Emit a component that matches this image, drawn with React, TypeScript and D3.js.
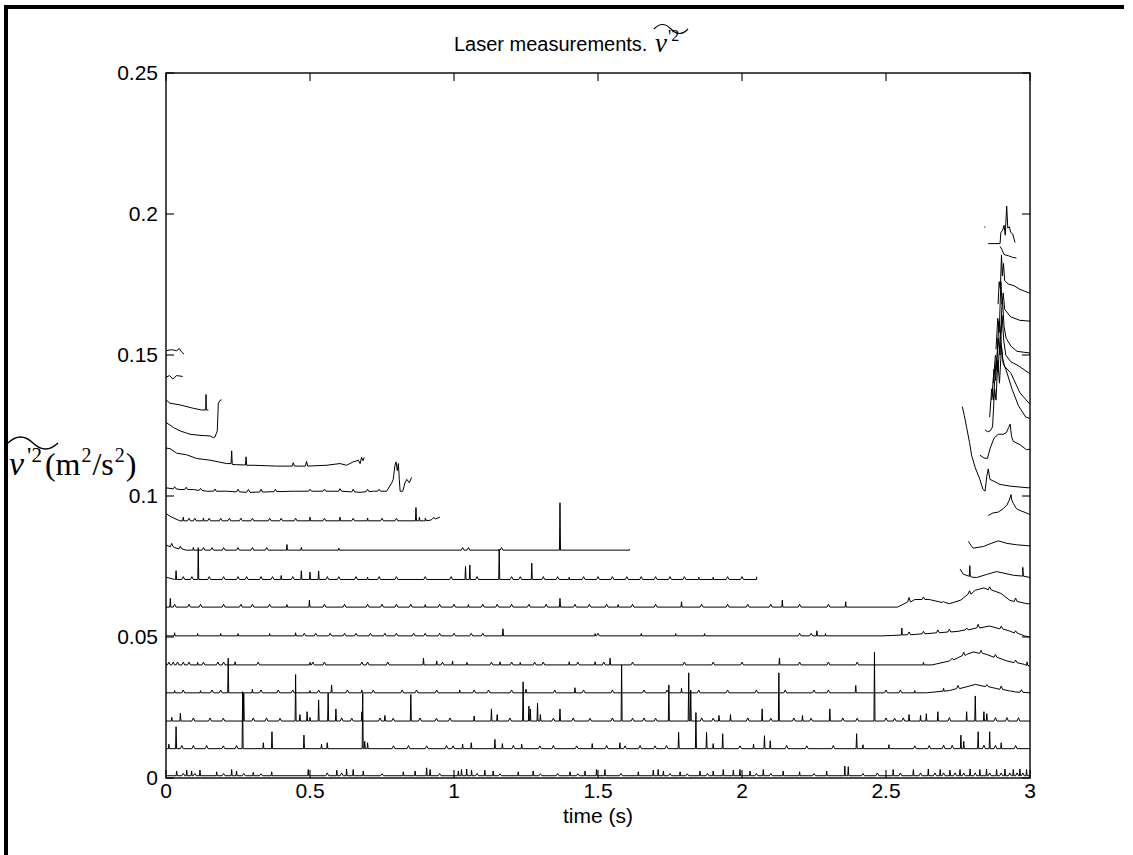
import React from 'react';
import * as d3 from 'd3';

const W = 1133;
const H = 855;
const PL = 166, PR = 1030, PT = 73, PB = 778;

const xTicks = [0, 0.5, 1, 1.5, 2, 2.5, 3];
const xTickLabels = ['0', '0.5', '1', '1.5', '2', '2.5', '3'];
const yTicks = [0, 0.05, 0.1, 0.15, 0.2, 0.25];
const yTickLabels = ['0', '0.05', '0.1', '0.15', '0.2', '0.25'];

type P = number[];

// ---- long traces: baseline keypoints, spikes [t, peak], small ripples [t, peak] ----
const base0: P[] = [[0, 0.0008], [3, 0.0008]];
const spikes0: P[] = [[0.037, 0.0025], [0.072, 0.0028], [0.089, 0.0025], [0.118, 0.0028], [0.176, 0.0022], [0.228, 0.003], [0.245, 0.0025], [0.303, 0.002], [0.367, 0.0022], [0.494, 0.003], [0.593, 0.0028], [0.627, 0.0032], [0.65, 0.003], [0.685, 0.0025], [0.824, 0.0022], [0.865, 0.0025], [0.905, 0.0036], [0.917, 0.003], [1.015, 0.0025], [1.026, 0.003], [1.044, 0.0032], [1.061, 0.0028], [1.107, 0.0028], [1.136, 0.0025], [1.223, 0.0022], [1.275, 0.0025], [1.403, 0.0022], [1.455, 0.0025], [1.495, 0.003], [1.524, 0.003], [1.64, 0.0022], [1.692, 0.0028], [1.709, 0.003], [1.727, 0.0025], [1.785, 0.0022], [1.854, 0.0025], [1.9, 0.0025], [1.935, 0.003], [1.97, 0.0028], [1.993, 0.003], [2.028, 0.0025], [2.074, 0.003], [2.143, 0.0025], [2.2, 0.0022], [2.294, 0.0025], [2.357, 0.0042], [2.369, 0.004], [2.525, 0.003], [2.595, 0.003], [2.647, 0.0032], [2.688, 0.003], [2.722, 0.0028], [2.757, 0.003], [2.792, 0.0032], [2.826, 0.003], [2.849, 0.0032], [2.884, 0.003], [2.913, 0.0032], [2.942, 0.003], [2.965, 0.0032], [2.988, 0.003]];
const ripple0: P[] = [[0.06, 0.0016], [0.1, 0.0016], [0.2, 0.0016], [0.27, 0.0016], [0.33, 0.0015], [0.56, 0.0018], [0.61, 0.0018], [0.75, 0.0015], [0.95, 0.0016], [1.08, 0.0016], [1.16, 0.0015], [1.3, 0.0015], [1.36, 0.0016], [1.43, 0.0015], [1.58, 0.0016], [1.75, 0.0016], [1.81, 0.0015], [1.88, 0.0016], [2.05, 0.0016], [2.1, 0.0016], [2.25, 0.0016], [2.42, 0.0016], [2.47, 0.0018], [2.55, 0.0018], [2.62, 0.0018], [2.67, 0.0018], [2.7, 0.0018], [2.74, 0.0018], [2.77, 0.0018], [2.81, 0.0018], [2.86, 0.0018], [2.9, 0.0018], [2.93, 0.0018], [2.955, 0.0018], [2.975, 0.0018]];

const base1: P[] = [[0, 0.0104], [3, 0.0104]];
const spikes1: P[] = [[0.01, 0.012], [0.035, 0.0182], [0.266, 0.0306], [0.338, 0.0125], [0.368, 0.0164], [0.479, 0.0152], [0.54, 0.012], [0.56, 0.0125], [0.683, 0.030], [0.69, 0.013], [0.70, 0.0125], [1.03, 0.012], [1.06, 0.0125], [1.142, 0.0137], [1.168, 0.0122], [1.235, 0.012], [1.48, 0.0122], [1.576, 0.0125], [1.78, 0.0162], [1.84, 0.0232], [1.877, 0.0162], [1.90, 0.0122], [1.933, 0.0157], [2.04, 0.012], [2.078, 0.015], [2.098, 0.0132], [2.398, 0.0157], [2.42, 0.0118], [2.51, 0.0118], [2.76, 0.0152], [2.77, 0.013], [2.82, 0.0164], [2.86, 0.0164], [2.90, 0.0125]];
const ripple1: P[] = [[0.055, 0.0115], [0.095, 0.0115], [0.141, 0.0115], [0.199, 0.0114], [0.245, 0.0115], [0.79, 0.0114], [0.842, 0.0115], [0.905, 0.0114], [0.974, 0.0115], [0.997, 0.0114], [1.206, 0.0115], [1.298, 0.0114], [1.345, 0.0115], [1.426, 0.0114], [1.53, 0.0115], [1.594, 0.0114], [1.646, 0.0115], [1.698, 0.0114], [1.738, 0.0115], [1.993, 0.0114], [2.155, 0.0115], [2.225, 0.0114], [2.317, 0.0115], [2.6, 0.0114], [2.65, 0.0115], [2.7, 0.0116], [2.73, 0.0116], [2.84, 0.0116], [2.88, 0.0116], [2.95, 0.0115]];

const base2: P[] = [[0, 0.0202], [3, 0.0202]];
const spikes2: P[] = [[0.02, 0.0215], [0.05, 0.023], [0.27, 0.030], [0.45, 0.0367], [0.465, 0.0225], [0.49, 0.0235], [0.5, 0.0215], [0.53, 0.0277], [0.563, 0.0301], [0.59, 0.0245], [0.68, 0.0235], [0.76, 0.0222], [0.85, 0.0296], [1.07, 0.022], [1.13, 0.0245], [1.15, 0.0225], [1.24, 0.0341], [1.26, 0.0255], [1.265, 0.0245], [1.29, 0.0265], [1.30, 0.0225], [1.368, 0.0245], [1.582, 0.0401], [1.746, 0.0330], [1.815, 0.0373], [1.822, 0.0312], [1.92, 0.0222], [1.96, 0.0225], [2.07, 0.0245], [2.128, 0.0373], [2.21, 0.0222], [2.305, 0.0245], [2.46, 0.0447], [2.58, 0.0225], [2.62, 0.0222], [2.64, 0.0228], [2.68, 0.0235], [2.78, 0.0235], [2.81, 0.0291], [2.84, 0.0235], [2.85, 0.0228]];
const ripple2: P[] = [[0.095, 0.0213], [0.153, 0.0213], [0.199, 0.0212], [0.303, 0.0213], [0.349, 0.0213], [0.396, 0.0212], [0.61, 0.0213], [0.645, 0.0212], [0.743, 0.0213], [0.789, 0.0212], [0.882, 0.0213], [0.939, 0.0212], [0.986, 0.0213], [1.194, 0.0213], [1.345, 0.0212], [1.414, 0.0213], [1.472, 0.0212], [1.55, 0.0213], [1.62, 0.0212], [1.66, 0.0213], [1.7, 0.0212], [1.86, 0.0213], [1.9, 0.0212], [2.02, 0.0213], [2.1, 0.0212], [2.18, 0.0213], [2.24, 0.0212], [2.35, 0.0213], [2.4, 0.0212], [2.5, 0.0213], [2.53, 0.0212], [2.56, 0.0213], [2.72, 0.0214], [2.88, 0.0214], [2.92, 0.0214], [2.96, 0.0214]];

const base3: P[] = [[0, 0.0302], [2.64, 0.0302], [2.72, 0.031], [2.79, 0.0326], [2.81, 0.0332], [2.88, 0.0318], [2.95, 0.0305], [3, 0.0302]];
const spikes3: P[] = [[0.03, 0.031], [0.12, 0.031], [0.216, 0.0425], [0.3, 0.0315], [0.5, 0.031], [0.575, 0.033], [0.68, 0.0312], [1.02, 0.0312], [1.25, 0.0315], [1.42, 0.032], [1.79, 0.0318], [2.395, 0.0328], [2.6, 0.031], [2.7, 0.0318], [2.93, 0.031]];
const ripple3: P[] = [[0.06, 0.0312], [0.16, 0.0312], [0.19, 0.0312], [0.33, 0.0312], [0.39, 0.0312], [0.44, 0.0312], [0.53, 0.0312], [0.63, 0.0312], [0.72, 0.0312], [0.82, 0.0312], [0.87, 0.0312], [0.94, 0.0312], [1.07, 0.0312], [1.12, 0.0312], [1.2, 0.0312], [1.35, 0.0312], [1.45, 0.0312], [1.55, 0.0312], [1.66, 0.0312], [1.74, 0.0312], [1.85, 0.0312], [1.95, 0.0312], [2.05, 0.0312], [2.15, 0.0312], [2.25, 0.0312], [2.3, 0.0312], [2.5, 0.0312], [2.55, 0.0312], [2.75, 0.0328], [2.85, 0.0331], [2.9, 0.0326], [2.97, 0.0313]];

const base4: P[] = [[0, 0.0401], [2.66, 0.0401], [2.72, 0.0415], [2.78, 0.0438], [2.803, 0.0447], [2.85, 0.0438], [2.92, 0.0415], [2.98, 0.0403], [3, 0.0396]];
const spikes4: P[] = [[0.11, 0.041], [0.24, 0.0412], [0.5, 0.041], [0.894, 0.0425], [0.94, 0.0415], [0.995, 0.0415], [1.045, 0.041], [1.16, 0.0412], [1.23, 0.041], [1.4, 0.0412], [1.49, 0.0412], [1.542, 0.0425], [2.13, 0.0425], [2.63, 0.041], [2.99, 0.0412]];
const ripple4: P[] = [[0.01, 0.0411], [0.025, 0.0411], [0.04, 0.0411], [0.06, 0.0411], [0.08, 0.0411], [0.13, 0.0411], [0.18, 0.0411], [0.2, 0.0411], [0.32, 0.0411], [0.51, 0.0411], [0.55, 0.0411], [0.68, 0.0411], [0.7, 0.0411], [0.77, 0.0411], [0.96, 0.0411], [1.13, 0.0411], [1.2, 0.0411], [1.28, 0.0411], [1.31, 0.0411], [1.43, 0.0411], [1.52, 0.0411], [1.62, 0.0411], [1.8, 0.0411], [1.9, 0.0411], [2.0, 0.0411], [2.2, 0.0411], [2.3, 0.0411], [2.4, 0.0411], [2.73, 0.0425], [2.77, 0.0446], [2.83, 0.0452], [2.88, 0.0438], [2.95, 0.0418]];

const base5: P[] = [[0, 0.0504], [2.49, 0.0504], [2.6, 0.0509], [2.75, 0.052], [2.86, 0.0539], [2.93, 0.0521], [2.98, 0.0504], [3, 0.050]];
const spikes5: P[] = [[0.03, 0.0515], [0.11, 0.0512], [0.19, 0.0512], [0.25, 0.0512], [0.36, 0.0512], [0.45, 0.0515], [1.17, 0.0529], [1.49, 0.0512], [1.65, 0.0512], [1.77, 0.0512], [1.87, 0.0512], [2.26, 0.0522], [2.29, 0.0512], [2.555, 0.0532]];
const ripple5: P[] = [[0.48, 0.0513], [0.52, 0.0513], [0.57, 0.0513], [0.62, 0.0513], [0.66, 0.0513], [0.71, 0.0513], [0.76, 0.0513], [0.8, 0.0513], [0.86, 0.0513], [0.9, 0.0513], [0.95, 0.0513], [1.0, 0.0513], [1.06, 0.0513], [1.1, 0.0513], [1.5, 0.0513], [2.2, 0.0513], [2.24, 0.0513], [2.58, 0.0518], [2.63, 0.052], [2.68, 0.0525], [2.72, 0.0528], [2.78, 0.0532], [2.82, 0.0545], [2.9, 0.0538], [2.95, 0.0522]];

const base6: P[] = [[0, 0.0606], [2.54, 0.0606], [2.6, 0.0633], [2.65, 0.0633], [2.72, 0.0618], [2.76, 0.0631], [2.81, 0.0666], [2.84, 0.0674], [2.9, 0.0654], [2.93, 0.063], [2.99, 0.0618], [3, 0.0618]];
const spikes6: P[] = [[0.015, 0.0637], [0.42, 0.0615], [0.498, 0.0631], [0.9, 0.0615], [1.05, 0.0615], [1.368, 0.0637], [1.57, 0.0615], [1.79, 0.0625], [2.14, 0.0631], [2.36, 0.0625]];
const ripple6: P[] = [[0.03, 0.0616], [0.08, 0.0616], [0.12, 0.0616], [0.2, 0.0616], [0.26, 0.0616], [0.3, 0.0616], [0.36, 0.0616], [0.55, 0.0616], [0.62, 0.0616], [0.7, 0.0616], [0.75, 0.0616], [0.8, 0.0616], [0.85, 0.0616], [0.95, 0.0616], [1.0, 0.0616], [1.1, 0.0616], [1.15, 0.0616], [1.2, 0.0616], [1.26, 0.0616], [1.32, 0.0616], [1.42, 0.0616], [1.47, 0.0616], [1.53, 0.0616], [1.62, 0.0616], [1.7, 0.0616], [1.86, 0.0616], [1.95, 0.0616], [2.02, 0.0616], [2.1, 0.0616], [2.2, 0.0616], [2.3, 0.0616], [2.58, 0.064], [2.63, 0.0642], [2.7, 0.0626], [2.79, 0.0664], [2.86, 0.0678], [2.95, 0.0638]];

const base7: P[] = [[0, 0.0712], [0.03, 0.0704], [2.051, 0.0704], [2.051, 0.0714]];
const spikes7: P[] = [[0.035, 0.0735], [0.112, 0.0817], [0.4, 0.0718], [0.47, 0.0735], [0.5, 0.073], [0.53, 0.0734], [0.7, 0.0712], [1.04, 0.075], [1.055, 0.0755], [1.157, 0.0812], [1.27, 0.0762], [1.4, 0.0712], [1.85, 0.0712], [1.9, 0.0712]];
const ripple7: P[] = [[0.06, 0.0714], [0.09, 0.0714], [0.15, 0.0714], [0.2, 0.0714], [0.25, 0.0714], [0.28, 0.0714], [0.33, 0.0714], [0.37, 0.0714], [0.44, 0.0714], [0.56, 0.0714], [0.6, 0.0714], [0.66, 0.0714], [0.74, 0.0714], [0.8, 0.0714], [0.9, 0.0714], [0.99, 0.0714], [1.08, 0.0714], [1.2, 0.0714], [1.23, 0.0714], [1.31, 0.0714], [1.36, 0.0714], [1.45, 0.0714], [1.5, 0.0714], [1.55, 0.0714], [1.6, 0.0714], [1.65, 0.0714], [1.7, 0.0714], [1.75, 0.0714], [1.8, 0.0714], [1.95, 0.0714], [2.0, 0.0714]];

const base8: P[] = [[0, 0.0826], [0.03, 0.0817], [0.07, 0.0808], [1.609, 0.0808], [1.609, 0.0812]];
const spikes8: P[] = [[0.095, 0.0818], [0.42, 0.0828], [0.47, 0.0818], [0.6, 0.0815], [1.368, 0.0976]];
const ripple8: P[] = [[0.02, 0.0832], [0.05, 0.0822], [0.13, 0.0817], [0.16, 0.0817], [0.2, 0.0817], [0.25, 0.0817], [0.3, 0.0817], [0.35, 0.0817], [1.03, 0.0817], [1.05, 0.0817], [1.165, 0.0817]];

const base9: P[] = [[0, 0.0937], [0.02, 0.0925], [0.048, 0.0912], [0.9, 0.0912], [0.92, 0.0915], [0.951, 0.0925]];
const spikes9: P[] = [[0.06, 0.0925], [0.13, 0.0922], [0.5, 0.0925], [0.604, 0.0925], [0.7, 0.0922], [0.868, 0.0959], [0.88, 0.0925]];
const ripple9: P[] = [[0.08, 0.0921], [0.1, 0.0921], [0.15, 0.0921], [0.19, 0.0921], [0.22, 0.0921], [0.26, 0.0921], [0.3, 0.0921], [0.36, 0.0921], [0.4, 0.0921], [0.45, 0.0921], [0.55, 0.0921], [0.65, 0.0921], [0.75, 0.0921], [0.8, 0.0921], [0.9, 0.0921], [0.93, 0.0924]];

// ---- short traces at the start (upper left) ----
const left10: P[] = [[0, 0.1029], [0.0486, 0.1023], [0.095, 0.1023], [0.141, 0.1017], [0.2106, 0.1017], [0.28, 0.1013], [0.286, 0.1023], [0.292, 0.1013], [0.442, 0.1017], [0.6, 0.1017], [0.604, 0.1026], [0.61, 0.1017], [0.674, 0.1013], [0.72, 0.1017], [0.766, 0.1017], [0.784, 0.1047], [0.789, 0.1059], [0.795, 0.1109], [0.799, 0.1121], [0.803, 0.109], [0.807, 0.1115], [0.81, 0.1059], [0.813, 0.1017], [0.822, 0.1017], [0.83, 0.1047], [0.836, 0.1059], [0.845, 0.1047], [0.853, 0.1066]];
const ripple10: P[] = [[0.03, 0.1033], [0.07, 0.1031], [0.12, 0.1027], [0.17, 0.1025], [0.25, 0.1024], [0.33, 0.1024], [0.38, 0.1024], [0.5, 0.1024], [0.55, 0.1024], [0.65, 0.1024], [0.7, 0.1024], [0.74, 0.1024]];
const left11: P[] = [[0, 0.117], [0.0139, 0.1168], [0.037, 0.1152], [0.0718, 0.1146], [0.1065, 0.1133], [0.153, 0.1127], [0.2106, 0.1115], [0.226, 0.1115], [0.228, 0.116], [0.23, 0.1112], [0.245, 0.1111], [0.276, 0.111], [0.278, 0.1139], [0.28, 0.1109], [0.303, 0.1109], [0.384, 0.1106], [0.438, 0.1106], [0.442, 0.1118], [0.446, 0.1106], [0.484, 0.1106], [0.488, 0.1123], [0.492, 0.1106], [0.558, 0.1109], [0.604, 0.1115], [0.627, 0.1109], [0.65, 0.1121], [0.668, 0.1127], [0.674, 0.1115], [0.679, 0.1137], [0.684, 0.1125], [0.688, 0.1137]];
const left12: P[] = [[0, 0.1261], [0.0255, 0.1243], [0.0486, 0.1231], [0.0833, 0.1219], [0.118, 0.1215], [0.153, 0.1213], [0.164, 0.1207], [0.17, 0.1209], [0.178, 0.1231], [0.1817, 0.1329], [0.1875, 0.1339], [0.193, 0.1341]];
const left13: P[] = [[0, 0.1341], [0.0139, 0.1329], [0.0486, 0.1323], [0.095, 0.1311], [0.124, 0.1305], [0.138, 0.1305], [0.139, 0.136], [0.14, 0.1305], [0.147, 0.1305]];
const left14: P[] = [[0, 0.1421], [0.012, 0.1427], [0.024, 0.1415], [0.037, 0.1427], [0.0579, 0.1424]];
const left15: P[] = [[0, 0.1515], [0.0197, 0.1519], [0.037, 0.1515], [0.046, 0.1523], [0.054, 0.1511], [0.0625, 0.1503]];

// ---- traces at the end (right cluster) ----
const right7: P[] = [[2.757, 0.0741], [2.768, 0.0723], [2.8, 0.0712], [2.815, 0.0711], [2.85, 0.0722], [2.884, 0.0732], [2.942, 0.0719], [2.975, 0.0716], [3, 0.0711]];
const rspikes7: P[] = [[2.791, 0.0753], [2.975, 0.0747]];
const right8: P[] = [[2.786, 0.0839], [2.795, 0.0825], [2.803, 0.0815], [2.838, 0.0821], [2.865, 0.0832], [2.89, 0.0841], [2.92, 0.0832], [2.954, 0.0827], [3, 0.0823]];
const right9: P[] = [[2.855, 0.0931], [2.872, 0.094], [2.89, 0.0943], [2.907, 0.0955], [2.92, 0.0968], [2.928, 0.0985], [2.934, 0.1005], [2.937, 0.0985], [2.942, 0.0974], [2.953, 0.0955], [2.965, 0.0949], [2.994, 0.0937], [3, 0.0935]];
const right10: P[] = [[2.765, 0.1317], [2.772, 0.1285], [2.78, 0.1243], [2.79, 0.119], [2.797, 0.1145], [2.81, 0.11], [2.826, 0.1059], [2.836, 0.1025], [2.844, 0.1017], [2.85, 0.107], [2.855, 0.1096], [2.861, 0.1059], [2.875, 0.1052], [2.896, 0.1041], [2.931, 0.1035], [2.994, 0.1029], [3, 0.1031]];
const right11: P[] = [[2.826, 0.1145], [2.84, 0.1135], [2.852, 0.1133], [2.862, 0.117], [2.875, 0.1205], [2.89, 0.1219], [2.907, 0.1219], [2.918, 0.1225], [2.926, 0.1243], [2.931, 0.1255], [2.936, 0.121], [2.942, 0.1194], [2.965, 0.1182], [2.988, 0.1164], [3, 0.1166]];
const right12: P[] = [[2.844, 0.1235], [2.852, 0.1228], [2.862, 0.1231], [2.87, 0.1245], [2.877, 0.138], [2.882, 0.134], [2.888, 0.148], [2.894, 0.14], [2.901, 0.153], [2.907, 0.147], [2.916, 0.145], [2.938, 0.1378], [2.96, 0.132], [2.985, 0.128], [3, 0.1275]];
const right13: P[] = [[2.86, 0.128], [2.867, 0.138], [2.873, 0.134], [2.882, 0.148], [2.889, 0.144], [2.897, 0.158], [2.904, 0.149], [2.912, 0.146], [2.934, 0.1435], [2.965, 0.1366], [3, 0.1325]];
const right14: P[] = [[2.867, 0.134], [2.875, 0.145], [2.881, 0.141], [2.889, 0.156], [2.896, 0.15], [2.903, 0.164], [2.909, 0.155], [2.916, 0.15], [2.933, 0.1476], [2.96, 0.1462], [3, 0.1433]];
const right15: P[] = [[2.872, 0.14], [2.88, 0.15], [2.885, 0.147], [2.892, 0.162], [2.898, 0.158], [2.904, 0.17], [2.91, 0.16], [2.917, 0.156], [2.934, 0.1531], [2.955, 0.1513], [3, 0.1507]];
const right16: P[] = [[2.882, 0.152], [2.888, 0.163], [2.893, 0.158], [2.899, 0.176], [2.903, 0.168], [2.907, 0.172], [2.912, 0.1662], [2.933, 0.1635], [2.965, 0.1623], [3, 0.162]];
const right17: P[] = [[2.889, 0.168], [2.893, 0.176], [2.897, 0.1735], [2.901, 0.1855], [2.904, 0.178], [2.908, 0.1825], [2.912, 0.1764], [2.924, 0.1752], [2.944, 0.1746], [2.965, 0.1733], [2.994, 0.1721], [3, 0.1721]];
const right18: P[] = [[2.896, 0.1885], [2.902, 0.1875], [2.91, 0.1856], [2.925, 0.1852], [2.94, 0.1846], [2.953, 0.1844]];
const right19: P[] = [[2.855, 0.1895], [2.896, 0.1895], [2.899, 0.1935], [2.905, 0.1942], [2.91, 0.196], [2.914, 0.1925], [2.919, 0.2028], [2.923, 0.195], [2.928, 0.1955], [2.933, 0.1935], [2.94, 0.1929], [2.948, 0.1899]];
const right19dot: P[] = [[2.841, 0.1954], [2.845, 0.1954]];

const traceList: [P[], P[], P[]][] = [
  [base0, spikes0, ripple0], [base1, spikes1, ripple1], [base2, spikes2, ripple2], [base3, spikes3, ripple3],
  [base4, spikes4, ripple4], [base5, spikes5, ripple5], [base6, spikes6, ripple6], [base7, spikes7, ripple7],
  [base8, spikes8, ripple8], [base9, spikes9, ripple9],
  [left10, [], ripple10], [left11, [], []], [left12, [], []], [left13, [], []], [left14, [], []], [left15, [], []],
  [right7, rspikes7, []], [right8, [], []], [right9, [], []], [right10, [], []], [right11, [], []], [right12, [], []],
  [right13, [], []], [right14, [], []], [right15, [], []], [right16, [], []], [right17, [], []], [right18, [], []],
  [right19, [], []], [right19dot, [], []],
];

function baseAt(base: P[], t: number): number {
  for (let i = 0; i < base.length - 1; i++) {
    const a = base[i], b = base[i + 1];
    if (t >= a[0] && t <= b[0]) {
      if (b[0] === a[0]) return a[1];
      return a[1] + (b[1] - a[1]) * (t - a[0]) / (b[0] - a[0]);
    }
  }
  return base[base.length - 1][1];
}

function mergePoints(base: P[], spikes: P[], ripples: P[]): P[] {
  const pts: P[] = base.map((p) => [p[0], p[1]]);
  const add = (list: P[], hw: number) => {
    list.forEach(([t, peak]) => {
      const b = baseAt(base, t);
      pts.push([t - hw, b], [t, peak], [t + hw, b]);
    });
  };
  add(spikes, 0.0018);
  add(ripples, 0.005);
  return pts.sort((a, b) => a[0] - b[0]);
}

export default function App() {
  const x = d3.scaleLinear().domain([0, 3]).range([PL, PR]);
  const y = d3.scaleLinear().domain([0, 0.25]).range([PB, PT]);
  const line = d3.line<P>().x((d) => x(d[0])).y((d) => y(d[1]));
  const tickLen = 8;
  const sans = "'Liberation Sans', Arial, Helvetica, sans-serif";
  const serif = "'Liberation Serif', 'Times New Roman', serif";

  const tilde = (x0: number, y0: number, w: number, h: number) =>
    `M${x0},${y0} Q${x0 + w / 4},${y0 - h} ${x0 + w / 2},${y0} T${x0 + w},${y0}`;

  return (
    <svg width={W} height={H} style={{ position: 'absolute', left: 0, top: 0, background: '#fff' }}>
      <rect x={0} y={0} width={W} height={H} fill="#fff" />
      {/* outer frame */}
      <rect x={4} y={5} width={4} height={H - 5} fill="#000" />
      <rect x={4} y={5} width={1120} height={4} fill="#000" />

      <defs>
        <clipPath id="plotclip">
          <rect x={PL} y={PT} width={PR - PL} height={PB - PT} />
        </clipPath>
      </defs>

      <g clipPath="url(#plotclip)" fill="none" stroke="#000" strokeWidth={1}>
        {traceList.map(([b, s, r], i) => (
          <path key={i} d={line(mergePoints(b, s, r)) || ''} />
        ))}
      </g>

      {/* axes box */}
      <rect x={PL} y={PT} width={PR - PL} height={PB - PT} fill="none" stroke="#000" strokeWidth={1.4} />
      <g stroke="#000" strokeWidth={1.1}>
        {xTicks.map((t, i) => (
          <g key={'xt' + i}>
            <line x1={x(t)} x2={x(t)} y1={PB} y2={PB - tickLen} />
            <line x1={x(t)} x2={x(t)} y1={PT} y2={PT + tickLen} />
          </g>
        ))}
        {yTicks.map((v, i) => (
          <g key={'yt' + i}>
            <line x1={PL} x2={PL + tickLen} y1={y(v)} y2={y(v)} />
            <line x1={PR} x2={PR - tickLen} y1={y(v)} y2={y(v)} />
          </g>
        ))}
      </g>
      <g fontFamily={sans} fontSize={21} fill="#000">
        {xTicks.map((t, i) => (
          <text key={'xl' + i} x={x(t)} y={PB + 20} textAnchor="middle">{xTickLabels[i]}</text>
        ))}
        {yTicks.map((v, i) => (
          <text key={'yl' + i} x={PL - 8} y={y(v) + 7} textAnchor="end">{yTickLabels[i]}</text>
        ))}
        <text x={(PL + PR) / 2} y={PB + 45} textAnchor="middle">time (s)</text>
        <text x={454} y={51} fontSize={20}>Laser measurements.</text>
      </g>
      {/* title math part */}
      <text x={655} y={52} fontFamily={serif} fill="#000">
        <tspan fontStyle="italic" fontSize={27}>v</tspan>
        <tspan fontSize={18} dx={1} dy={-9}>'</tspan>
        <tspan fontSize={16} dy={-2}>2</tspan>
      </text>
      <path d={tilde(654, 29, 34, 9)} fill="none" stroke="#000" strokeWidth={1.2} />

      {/* y label */}
      <text x={9} y={475} fontFamily={serif} fill="#000">
        <tspan fontStyle="italic" fontSize={34}>v</tspan>
        <tspan fontSize={24} dx={3} dy={-12}>'</tspan>
        <tspan fontSize={21} dy={-1}>2</tspan>
        <tspan fontSize={32} dx={3} dy={13}>(m</tspan>
        <tspan fontSize={20} dx={1} dy={-13}>2</tspan>
        <tspan fontSize={32} dx={1} dy={13}>/s</tspan>
        <tspan fontSize={20} dx={1} dy={-13}>2</tspan>
        <tspan fontSize={32} dx={1} dy={13}>)</tspan>
      </text>
      <path d={tilde(8, 443, 50, 12)} fill="none" stroke="#000" strokeWidth={1.4} />
    </svg>
  );
}
